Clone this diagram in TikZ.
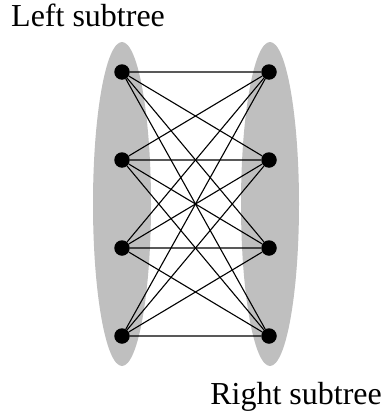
\documentclass[tikz,border=0pt]{standalone}
\usepackage{fontspec}
\setmainfont{Liberation Serif}
\usetikzlibrary{shapes.geometric}

\begin{document}
\begin{tikzpicture}[
    x=1pt, y=-1pt,
    every node/.style={font=\fontsize{32}{38}\selectfont},
    subtree/.style={ellipse, fill=black!25, draw=none, minimum width=58pt, minimum height=324pt, inner sep=0pt},
    vertex/.style={circle, fill=black, inner sep=0pt, minimum size=15.5pt},
    edge/.style={line width=1.1pt, black}
]
    \useasboundingbox (0,0) rectangle (384,415);

    % Subtrees
    \node[subtree] (lsub) at (122,204) {};
    \node[subtree] (rsub) at (270,204) {};

    % Labels
    \node[anchor=base west, inner sep=0pt] (llabel) at (11,27) {Left subtree};
    \node[anchor=base east, inner sep=0pt] (rlabel) at (382,404) {Right subtree};

    % Vertices
    \node[vertex] (l1) at (122,72) {};
    \node[vertex] (l2) at (122,160) {};
    \node[vertex] (l3) at (122,248) {};
    \node[vertex] (l4) at (122,336) {};
    \node[vertex] (r1) at (269,72) {};
    \node[vertex] (r2) at (269,160) {};
    \node[vertex] (r3) at (269,248) {};
    \node[vertex] (r4) at (269,336) {};

    % Edges
    \draw[edge] (l1) -- (r1) (l1) -- (r2) (l1) -- (r3) (l1) -- (r4);
    \draw[edge] (l2) -- (r1) (l2) -- (r2) (l2) -- (r3) (l2) -- (r4);
    \draw[edge] (l3) -- (r1) (l3) -- (r2) (l3) -- (r3) (l3) -- (r4);
    \draw[edge] (l4) -- (r1) (l4) -- (r2) (l4) -- (r3) (l4) -- (r4);

\end{tikzpicture}
\end{document}
